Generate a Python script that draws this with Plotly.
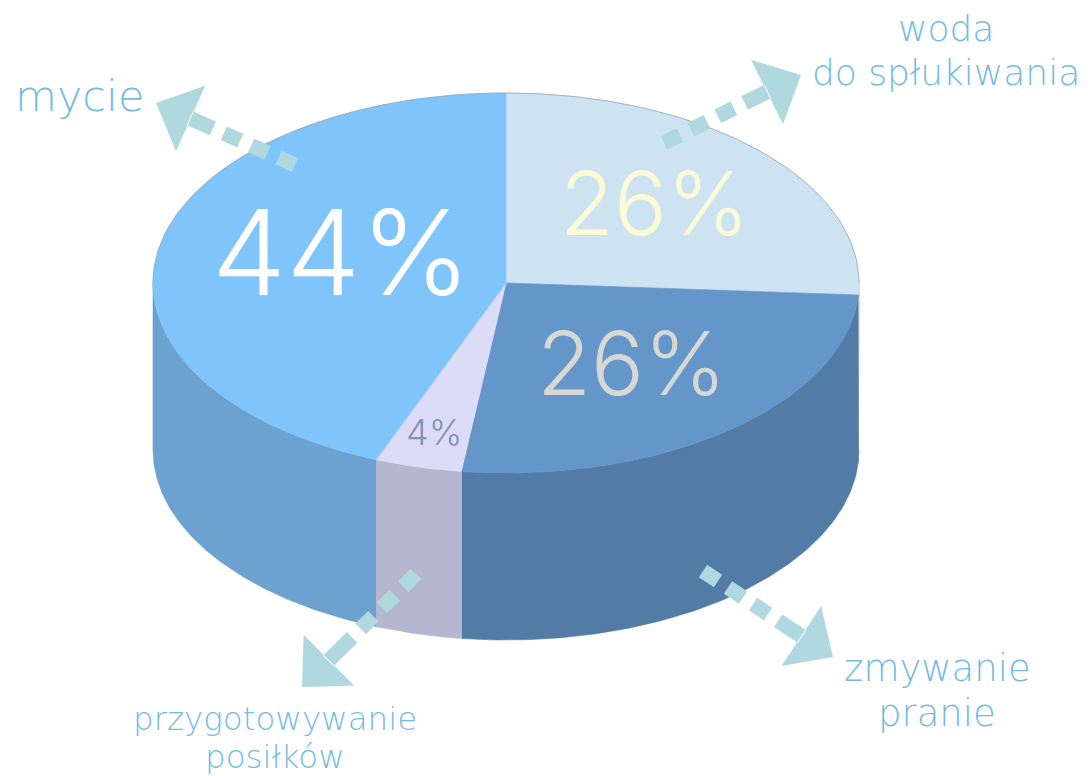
import numpy as np
import plotly.graph_objects as go

# Slice data, clockwise from 12 o'clock
slice_names = ["woda do spłukiwania", "zmywanie, pranie", "przygotowywanie posiłków", "mycie"]
slice_values = [26, 26, 4, 44]
slice_labels = ["26%", "26%", "4%", "44%"]
top_colors = ["#cde3f2", "#6596ca", "#dddcf8", "#80c4fc"]
wall_colors = ["#5b82ac", "#527ba6", "#b5b7d0", "#6ca1d0"]
label_colors = ["#fbfbd6", "#d6d8d4", "#7f93b5", "#ffffff"]
label_sizes = [88, 88, 36, 118]
label_x = [654, 631, 434, 341]
label_y = [203, 363, 432, 252]

category_lines = ["mycie", "woda", "do spłukiwania", "przygotowywanie", "posiłków", "zmywanie", "pranie"]
category_x = [79, 946, 946, 275, 275, 937, 937]
category_y = [96, 28, 72, 719, 757, 668, 713]
category_sizes = [43, 36, 36, 32.5, 32.5, 37, 37]

# Arrows: tail, tip
arrow_tail_x = [295, 664, 416, 703]
arrow_tail_y = [165, 143, 574, 571]
arrow_tip_x = [156, 801, 302, 833]
arrow_tip_y = [103, 75, 687, 657]

CX, CY, RX, RY, DEPTH = 506, 283, 353, 190, 167
ARROW = "#b0d8df"
TEXT = "#74bbe4"

def arc(a0, a1, dy=0, n=120):
    t = np.radians(np.linspace(a0, a1, n))
    return CX + RX * np.sin(t), CY - RY * np.cos(t) + dy

fig = go.Figure()
edges = np.concatenate([[0], np.cumsum(slice_values)]) * 3.6

# walls
for i, name in enumerate(slice_names):
    a0, a1 = max(edges[i], 90), min(edges[i + 1], 270)
    if a1 <= a0:
        continue
    x0, y0 = arc(a0, a1)
    x1, y1 = arc(a1, a0, DEPTH)
    fig.add_trace(go.Scatter(x=np.r_[x0, x1], y=np.r_[y0, y1], mode="lines", fill="toself",
                             fillcolor=wall_colors[i], line=dict(width=0.6, color=wall_colors[i]),
                             hoverinfo="skip", showlegend=False))
# tops
for i, name in enumerate(slice_names):
    x0, y0 = arc(edges[i], edges[i + 1])
    fig.add_trace(go.Scatter(x=np.r_[CX, x0, CX], y=np.r_[CY, y0, CY], mode="lines", fill="toself",
                             fillcolor=top_colors[i], line=dict(width=0.6, color=top_colors[i]),
                             name=name, hoverinfo="name", showlegend=False))
# faint rim along the back of the top face
rx, ry = arc(-90, 90)
fig.add_trace(go.Scatter(x=rx, y=ry, mode="lines", line=dict(width=0.8, color="#93a4b2"),
                         hoverinfo="skip", showlegend=False))

# arrows
DASH, GAP, HALF, HEAD_LEN, HEAD_HALF = 18, 12, 7.5, 38, 36
for xa, ya, xb, yb in zip(arrow_tail_x, arrow_tail_y, arrow_tip_x, arrow_tip_y):
    tail = np.array([xa, ya], float)
    tip = np.array([xb, yb], float)
    d = tip - tail
    length = np.hypot(*d)
    u = d / length
    n = np.array([-u[1], u[0]])
    base = tip - HEAD_LEN * u
    w1, w2 = base + HEAD_HALF * n, base - HEAD_HALF * n
    px, py = [], []
    s = 0.0
    shaft = length - HEAD_LEN
    while s < shaft:
        e = s + DASH
        if shaft - s < 2 * DASH:      # last dash runs into the head
            e = shaft + 1
        for p in (tail + s*u + HALF*n, tail + e*u + HALF*n, tail + e*u - HALF*n,
                  tail + s*u - HALF*n, tail + s*u + HALF*n):
            px.append(p[0]); py.append(p[1])
        px.append(None); py.append(None)
        s = e + GAP
    for p in (tip, w1, w2, tip):
        px.append(p[0]); py.append(p[1])
    fig.add_trace(go.Scatter(x=px, y=py, mode="lines", fill="toself", fillcolor=ARROW,
                             line=dict(width=0), hoverinfo="skip", showlegend=False))

ann = []
for s, x, y, c, sz in zip(slice_labels, label_x, label_y, label_colors, label_sizes):
    ann.append(dict(x=x, y=y, text=s, showarrow=False, xanchor="center", yanchor="middle",
                    font=dict(family="Inter", weight=300, size=sz, color=c)))
for s, x, y, sz in zip(category_lines, category_x, category_y, category_sizes):
    ann.append(dict(x=x, y=y, text=s, showarrow=False, xanchor="center", yanchor="middle",
                    font=dict(family="DejaVu Sans", weight=300, size=sz, color=TEXT)))

fig.update_layout(width=1091, height=776, margin=dict(l=0, r=0, t=0, b=0),
                  paper_bgcolor="white", plot_bgcolor="white", annotations=ann,
                  xaxis=dict(range=[0, 1091], visible=False, fixedrange=True),
                  yaxis=dict(range=[776, 0], visible=False, fixedrange=True))
fig.write_html("out.html", config=dict(displayModeBar=False),
               post_script="document.body.style.margin='0';")
